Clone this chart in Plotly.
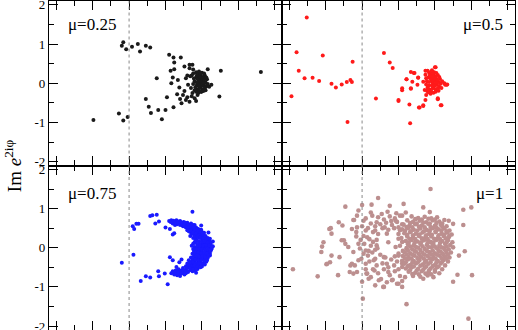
import plotly.graph_objects as go
from plotly.subplots import make_subplots

# mu = 0.25 (Re, Im) pairs
pts_025 = [
    (-0.49, -0.94), (-0.08, 1.05), (-0.10, 0.96), (-0.04, 0.87), (0.04, 0.93), (0.12, 1.00),
    (0.15, 0.81), (0.23, 0.96), (0.29, 0.91), (-0.14, -0.77), (-0.08, -0.95), (-0.02, -0.86),
    (0.27, -0.60), (0.30, -0.76), (0.38, 0.13), (0.23, -0.40), (0.40, -0.68), (0.50, -0.68),
    (0.45, -0.92), (0.52, -0.36), (0.61, -0.61), (0.55, 0.73), (0.61, 0.66), (0.62, 0.53),
    (0.71, 0.66), (0.62, 0.36), (0.57, 0.32), (0.60, 0.15), (0.58, 0.00), (0.67, 0.08),
    (0.69, -0.11), (0.76, 0.43), (0.83, 0.47), (1.24, -0.34), (1.26, 0.32), (1.08, 0.36),
    (1.81, 0.29),
    (0.83, 0.38), (0.78, 0.13), (0.81, -0.04), (0.74, -0.30), (0.78, -0.43), (0.83, -0.47),
    (0.90, -0.38), (0.94, -0.30), (0.99, -0.22), (0.72, -0.51), (0.87, 0.47), (1.10, -0.09),
    (1.13, -0.04), (0.80, 0.20), (0.84, 0.18), (0.76, -0.20), (0.86, -0.33), (0.80, -0.36),
    (0.92, -0.45), (0.70, -0.40), (0.66, -0.28), (0.88, 0.35),
    (0.90, 0.05), (0.92, 0.15), (0.93, -0.05), (0.95, 0.22), (0.96, 0.10), (0.97, 0.00),
    (0.98, -0.10), (0.99, 0.18), (1.00, 0.05), (1.01, -0.15), (1.02, 0.12), (1.03, -0.05),
    (1.04, 0.20), (1.05, 0.02), (1.06, -0.08), (0.94, -0.15), (0.96, -0.20), (0.99, -0.22),
    (1.02, -0.20), (0.91, -0.10), (0.89, 0.12), (0.92, 0.28), (0.96, 0.30), (1.00, 0.27),
    (1.03, 0.25), (0.95, 0.05), (0.98, 0.08), (1.00, -0.05), (0.97, -0.12), (0.94, 0.12),
    (1.01, 0.15), (1.04, -0.12), (1.07, 0.10), (1.08, -0.02), (0.93, 0.20), (0.88, -0.02),
    (0.90, -0.18), (0.95, -0.25), (1.05, -0.18), (1.06, 0.15), (0.98, 0.24), (0.99, -0.02),
    (1.02, 0.02), (0.96, -0.06), (0.93, 0.02), (1.00, 0.12), (0.97, 0.16), (1.03, 0.08),
    (0.92, -0.22), (0.86, 0.20), (0.85, -0.12), (0.88, 0.25), (0.87, -0.25),
]

# mu = 0.5
pts_05 = [
    (-0.76, 1.68), (-0.90, 0.79), (-0.87, 0.32), (-0.79, 0.13), (-0.68, 0.14), (-0.59, 0.06),
    (-0.54, 0.71), (-0.97, -0.33), (-0.42, -0.01), (-0.36, -0.11), (-0.28, -0.03), (-0.21, 0.03),
    (-0.16, 0.08), (-0.14, 0.03), (-0.13, 0.55), (-0.20, -0.99), (0.30, 0.77), (0.38, 0.53),
    (0.42, 0.39), (0.19, -0.39), (0.50, -0.45), (0.65, -0.54), (0.66, -1.02), (0.78, -0.62),
    (0.55, -0.18), (0.61, 0.10), (0.67, 0.29), (0.72, 0.26), (0.67, -0.14), (0.77, 0.15),
    (0.84, -0.58), (1.04, -0.41), (1.09, -0.56), (1.01, 0.41), (1.16, -0.04), (1.13, 0.00),
    (0.71, 0.26), (0.61, 0.10), (0.69, 0.04), (0.77, 0.14), (0.76, -0.04), (0.84, 0.04),
    (0.87, 0.32), (1.00, 0.41), (0.55, -0.13), (0.67, -0.13), (0.86, -0.17), (0.88, -0.30),
    (0.87, -0.43), (1.04, -0.38), (1.08, -0.56), (0.79, -0.62), (0.84, -0.56), (1.14, -0.04),
    (1.17, -0.03), (0.50, -0.43),
    (0.89, 0.05), (0.91, 0.15), (0.92, -0.06), (0.94, 0.22), (0.95, 0.09), (0.97, 0.01),
    (0.98, -0.11), (0.99, 0.19), (1.00, 0.06), (1.01, -0.16), (1.02, 0.11), (1.03, -0.04),
    (1.04, 0.21), (1.05, 0.03), (1.06, -0.09), (0.93, -0.16), (0.95, -0.21), (0.98, -0.24),
    (1.01, -0.22), (0.90, -0.11), (0.88, 0.13), (0.92, 0.27), (0.95, 0.30), (0.99, 0.28),
    (1.02, 0.26), (0.96, 0.06), (0.98, 0.09), (1.00, -0.06), (0.97, -0.13), (0.94, 0.13),
    (1.01, 0.16), (1.04, -0.13), (1.07, 0.11), (1.08, -0.01), (0.93, 0.20), (0.88, -0.03),
    (0.89, -0.19), (0.94, -0.27), (1.05, -0.19), (1.06, 0.16), (0.97, 0.24), (0.99, -0.03),
    (1.02, 0.02), (0.96, -0.05), (0.92, 0.03), (1.00, 0.13), (0.97, 0.17), (1.03, 0.08),
    (0.91, -0.23), (0.96, 0.33), (1.10, 0.05), (1.09, -0.12), (0.87, 0.22), (0.90, 0.32),
]

# mu = 0.75
pts_075 = [
    (-0.10, -0.38), (0.06, -0.18), (0.05, 0.55), (0.07, 0.48), (0.10, 0.61), (0.13, 0.61),
    (0.29, 0.81), (0.32, 0.83), (0.38, 0.84), (0.36, 0.62), (0.41, 0.67), (0.16, -0.85),
    (0.23, -0.73), (0.29, -0.76), (0.40, -0.60), (0.41, -0.73), (0.53, -0.93), (0.49, -0.66),
    (0.56, -0.24), (0.60, -0.32), (0.50, 0.52), (0.56, 0.48), (0.60, 0.34), (0.62, 0.37),
    (0.87, 0.92), (0.99, 0.57), (1.09, 0.39), (1.15, 0.16), (1.11, 0.23), (0.92, -0.64),
    (0.72, -0.30), (0.69, -0.37), (0.65, -0.49),
    (0.55, 0.68), (0.58, 0.70), (0.62, 0.66), (0.65, 0.70), (0.68, 0.64), (0.70, 0.68),
    (0.72, 0.62), (0.75, 0.66), (0.78, 0.60), (0.80, 0.64), (0.83, 0.58), (0.85, 0.62),
    (0.88, 0.55), (0.90, 0.58), (0.70, 0.58), (0.74, 0.55), (0.78, 0.52), (0.82, 0.50),
    (0.86, 0.48), (0.92, 0.52), (0.95, 0.48), (0.66, 0.60), (0.60, 0.62), (0.63, 0.58),
    (0.80, 0.45), (0.84, 0.40), (0.88, 0.42), (0.92, 0.40), (0.96, 0.42), (1.00, 0.40),
    (0.86, 0.35), (0.90, 0.32), (0.94, 0.35), (0.98, 0.30), (1.02, 0.33), (1.05, 0.30),
    (0.88, 0.25), (0.92, 0.22), (0.96, 0.25), (1.00, 0.20), (1.04, 0.22), (1.08, 0.25),
    (0.99, 0.46), (1.03, 0.38), (0.84, 0.30), (0.82, 0.42), (1.10, 0.18), (0.90, 0.15),
    (0.88, 0.10), (0.92, 0.12), (0.96, 0.08), (1.00, 0.10), (1.04, 0.12), (1.08, 0.08),
    (1.12, 0.10), (0.90, 0.02), (0.94, -0.02), (0.98, 0.02), (1.02, -0.01), (1.06, 0.03),
    (1.10, 0.00), (1.13, -0.04), (0.89, -0.08), (0.93, -0.10), (0.97, -0.07), (1.01, -0.12),
    (1.05, -0.09), (1.09, -0.11), (0.86, 0.05), (0.87, -0.15), (1.15, 0.04), (0.91, -0.18),
    (0.95, -0.16), (0.99, -0.19), (1.03, -0.17), (1.07, -0.20), (1.11, -0.15), (0.88, -0.03),
    (0.85, -0.25), (0.89, -0.28), (0.93, -0.25), (0.97, -0.29), (1.01, -0.26), (1.05, -0.30),
    (1.08, -0.26), (0.82, -0.32), (0.86, -0.36), (0.90, -0.34), (0.94, -0.38), (0.98, -0.35),
    (1.02, -0.40), (1.06, -0.36), (0.80, -0.40), (0.84, -0.44), (0.88, -0.42), (0.92, -0.46),
    (0.96, -0.44), (1.00, -0.48), (0.78, -0.47), (0.82, -0.50), (0.86, -0.52), (0.90, -0.50),
    (0.94, -0.54), (0.58, -0.65), (0.62, -0.68), (0.66, -0.62), (0.70, -0.66), (0.72, -0.58),
    (0.75, -0.62), (0.78, -0.56), (0.80, -0.60), (0.84, -0.57), (0.87, -0.60), (0.68, -0.55),
    (0.74, -0.52), (0.64, -0.58), (0.60, -0.60), (0.76, -0.68), (0.70, -0.72), (0.66, -0.70),
    (0.90, -0.58),
    (0.57, 0.66), (0.61, 0.69), (0.64, 0.64), (0.67, 0.67), (0.71, 0.65), (0.74, 0.61),
    (0.77, 0.64), (0.81, 0.57), (0.84, 0.54), (0.87, 0.59), (0.89, 0.51), (0.93, 0.47),
    (0.96, 0.45), (0.76, 0.57), (0.80, 0.53), (0.85, 0.45), (0.90, 0.44), (0.94, 0.42),
    (0.98, 0.38), (1.01, 0.36), (0.88, 0.38), (0.92, 0.36), (0.96, 0.32), (1.00, 0.30),
    (1.04, 0.27), (1.07, 0.22), (0.90, 0.28), (0.94, 0.29), (0.98, 0.26), (1.02, 0.24),
    (1.06, 0.18), (1.10, 0.14), (0.92, 0.18), (0.96, 0.16), (1.00, 0.15), (1.04, 0.16),
    (1.08, 0.13), (1.12, 0.06), (0.94, 0.06), (0.98, 0.06), (1.02, 0.05), (1.06, 0.07),
    (1.10, 0.05), (1.14, 0.01), (0.92, -0.04), (0.96, -0.03), (1.00, -0.04), (1.04, -0.05),
    (1.08, -0.04), (1.12, -0.08), (0.91, -0.13), (0.95, -0.12), (0.99, -0.14), (1.03, -0.13),
    (1.07, -0.15), (1.11, -0.20), (0.89, -0.22), (0.93, -0.20), (0.97, -0.23), (1.01, -0.21),
    (1.05, -0.24), (1.09, -0.21), (0.87, -0.31), (0.91, -0.30), (0.95, -0.32), (0.99, -0.31),
    (1.03, -0.33), (1.07, -0.32), (0.84, -0.39), (0.88, -0.37), (0.92, -0.40), (0.96, -0.39),
    (1.00, -0.42), (1.04, -0.43), (0.82, -0.46), (0.86, -0.47), (0.90, -0.45), (0.94, -0.49),
    (0.98, -0.50), (0.79, -0.52), (0.84, -0.53), (0.88, -0.55), (0.92, -0.54), (0.74, -0.57),
    (0.77, -0.60), (0.81, -0.62), (0.70, -0.61), (0.67, -0.66), (0.63, -0.63), (0.73, -0.65),
    (0.78, -0.65),
]

# mu = 1
pts_1 = [
    (0.94, 1.50), (-0.95, -0.55), (-0.61, -0.73), (-0.33, -0.70), (-0.23, 1.05), (0.01, -1.30),
    (0.61, -1.44), (1.46, -1.81), (1.50, 1.03), (1.39, 0.97), (1.51, -0.70), (1.31, -0.69),
    (1.25, -0.87), (1.41, -0.09), (1.33, -0.20), (1.39, 0.58), (1.19, 0.69), (1.25, 0.61),
    (0.22, 1.27), (0.38, 1.07), (0.57, 1.12), (0.84, 1.03), (0.93, 0.91), (0.13, 1.10),
    (-0.45, 0.48), (-0.53, 0.14), (-0.56, -0.11), (-0.44, -0.37), (-0.48, -0.41), (-0.31, -0.24),
    (-0.25, 0.19), (-0.32, 0.65), (-0.12, 0.71), (-0.07, 0.52), (-0.14, -0.41), (-0.12, -0.66),
    (0.00, -0.87), (0.06, -0.66), (0.18, -0.96), (0.29, -1.00), (0.20, 0.06), (0.55, -1.00),
    (0.84, -0.79), (0.00, 1.09), (-0.27, 0.57), (-0.43, 0.50), (-0.42, 0.36), (-0.55, 0.03),
    (-0.42, -0.20), (-0.49, -0.42), (-0.17, -0.62), (-0.16, -0.45), (-0.28, 0.19), (-0.23, 0.10),
    (-0.19, 0.02), (-0.12, -0.11), (-0.14, 0.48), (-0.11, 0.71), (-0.07, 0.82), (-0.05, 0.95),
    (-0.08, 0.29), (-0.05, 0.10), (-0.05, -0.32), (-0.07, -0.62), (0.02, 0.69), (0.05, 0.44),
    (0.07, 0.27), (0.05, -0.07), (0.05, -0.41), (0.07, -0.66), (0.09, -0.79), (0.16, -0.32),
    (0.17, -0.58), (0.23, -0.83), (0.21, -0.01), (0.18, 0.44), (0.14, 0.82), (0.20, 0.65),
    (0.27, 0.86), (0.31, 0.52), (0.34, 0.36), (0.36, 0.14), (0.30, -0.24), (0.34, -0.41),
    (0.36, -0.62), (0.41, -0.83), (0.30, -1.00), (0.46, 0.69), (0.50, 0.52), (0.55, 0.82),
    (0.50, 0.23), (0.46, 0.02), (0.50, -0.15), (0.55, -0.49), (0.59, -0.75), (0.50, -0.92),
    (0.22, 0.78), (0.30, 0.72), (0.38, 0.80), (0.45, 0.75), (0.52, 0.82), (0.25, 0.60),
    (0.33, 0.64), (0.41, 0.58), (0.48, 0.66), (0.55, 0.60), (0.18, 0.55), (0.28, 0.50),
    (0.36, 0.46), (0.44, 0.50), (0.52, 0.45), (0.12, 0.62), (0.08, 0.50), (0.15, 0.40),
    (0.22, 0.35), (0.50, 0.35), (0.54, 0.25), (0.47, 0.88), (0.35, 0.92), (0.60, 0.90),
    (0.12, 0.90), (0.05, 0.75), (0.40, 0.68), (0.15, -0.55), (0.22, -0.65), (0.30, -0.55),
    (0.38, -0.70), (0.45, -0.60), (0.52, -0.72), (0.20, -0.45), (0.28, -0.40), (0.36, -0.50),
    (0.44, -0.45), (0.50, -0.55), (0.12, -0.75), (0.26, -0.80), (0.34, -0.88), (0.42, -0.82),
    (0.48, -0.92), (0.55, -0.85), (0.10, -0.35), (0.18, -0.28), (0.40, -0.30), (0.48, -0.35),
    (0.55, -0.40), (0.32, -0.25), (0.25, -0.18), (0.05, -0.55), (0.08, -0.20), (0.02, 0.30),
    (-0.02, 0.20), (0.03, 0.10), (-0.03, -0.02), (0.02, -0.15), (-0.01, -0.28), (0.10, 0.22),
    (0.12, 0.05), (0.09, -0.08), (0.14, -0.12), (-0.08, 0.40), (-0.10, -0.45), (0.00, 0.55),
    (0.15, 0.15), (0.55, 0.15), (0.52, 0.05), (0.56, -0.08), (0.50, -0.20), (0.45, -0.22),
    (0.20, 0.20), (0.18, -0.05),
    (0.68, 0.80), (0.77, 0.76), (0.86, 0.79), (0.95, 0.75), (1.03, 0.78),
    (0.62, 0.70), (0.70, 0.66), (0.79, 0.69), (0.88, 0.65), (0.97, 0.70), (1.06, 0.67), (1.13, 0.71),
    (0.57, 0.59), (0.65, 0.56), (0.73, 0.60), (0.82, 0.57), (0.91, 0.61), (1.00, 0.56), (1.08, 0.59),
    (1.16, 0.55), (0.55, 0.47), (0.63, 0.50), (0.71, 0.46), (0.80, 0.49), (0.89, 0.45), (0.97, 0.50),
    (1.05, 0.47), (1.13, 0.49), (1.20, 0.44), (0.58, 0.37), (0.66, 0.40), (0.74, 0.36), (0.83, 0.39),
    (0.92, 0.35), (1.01, 0.40), (1.09, 0.36), (1.17, 0.39), (1.23, 0.34), (0.62, 0.29), (0.70, 0.26),
    (0.78, 0.30), (0.87, 0.27), (0.95, 0.29), (1.04, 0.25), (1.12, 0.30), (1.19, 0.27), (0.60, 0.17),
    (0.68, 0.20), (0.76, 0.16), (0.85, 0.19), (0.94, 0.15), (1.02, 0.20), (1.10, 0.17), (1.18, 0.19),
    (1.24, 0.14), (0.63, 0.09), (0.71, 0.06), (0.80, 0.10), (0.89, 0.07), (0.97, 0.09), (1.06, 0.05),
    (1.14, 0.10), (1.21, 0.07), (0.61, -0.01), (0.69, -0.04), (0.77, 0.00), (0.86, -0.03), (0.95, 0.01),
    (1.03, -0.02), (1.11, 0.00), (1.19, -0.04), (1.25, 0.01), (0.58, -0.11), (0.66, -0.14), (0.74, -0.10),
    (0.83, -0.13), (0.92, -0.11), (1.00, -0.14), (1.08, -0.10), (1.16, -0.13), (1.22, -0.12),
    (0.56, -0.21), (0.64, -0.24), (0.72, -0.20), (0.81, -0.23), (0.90, -0.21), (0.98, -0.24),
    (1.06, -0.20), (1.14, -0.23), (1.20, -0.25), (0.55, -0.33), (0.63, -0.30), (0.71, -0.34),
    (0.79, -0.31), (0.88, -0.33), (0.96, -0.30), (1.04, -0.34), (1.12, -0.31), (1.18, -0.35),
    (0.58, -0.41), (0.66, -0.44), (0.74, -0.40), (0.83, -0.43), (0.91, -0.41), (1.00, -0.44),
    (1.08, -0.40), (1.14, -0.45), (0.60, -0.53), (0.68, -0.50), (0.77, -0.54), (0.86, -0.51),
    (0.94, -0.53), (1.03, -0.50), (1.10, -0.55), (0.64, -0.61), (0.73, -0.64), (0.82, -0.60),
    (0.91, -0.63), (1.00, -0.61), (1.06, -0.65), (0.70, -0.72), (0.80, -0.74), (0.90, -0.71),
    (0.98, -0.75),
    (0.73, 0.73), (0.82, 0.72), (0.91, 0.74), (1.00, 0.72), (0.66, 0.63), (0.75, 0.62), (0.84, 0.64),
    (0.93, 0.62), (1.02, 0.63), (1.10, 0.62), (0.61, 0.53), (0.69, 0.52), (0.78, 0.54), (0.86, 0.52),
    (0.94, 0.53), (1.02, 0.52), (1.10, 0.54), (0.59, 0.43), (0.67, 0.42), (0.76, 0.44), (0.85, 0.42),
    (0.93, 0.43), (1.01, 0.42), (1.09, 0.44), (1.16, 0.42), (0.62, 0.33), (0.70, 0.32), (0.79, 0.34),
    (0.88, 0.32), (0.96, 0.33), (1.05, 0.32), (1.13, 0.34), (1.20, 0.31), (0.65, 0.23), (0.73, 0.22),
    (0.82, 0.24), (0.90, 0.22), (0.99, 0.23), (1.07, 0.22), (1.15, 0.24), (0.64, 0.13), (0.72, 0.12),
    (0.81, 0.14), (0.90, 0.12), (0.98, 0.13), (1.07, 0.12), (1.16, 0.14), (0.66, 0.03), (0.74, 0.02),
    (0.83, 0.04), (0.91, 0.02), (1.00, 0.03), (1.08, 0.02), (1.16, 0.04), (0.63, -0.07), (0.72, -0.08),
    (0.80, -0.06), (0.89, -0.08), (0.97, -0.07), (1.05, -0.08), (1.14, -0.06), (0.61, -0.17),
    (0.69, -0.18), (0.78, -0.16), (0.86, -0.18), (0.95, -0.17), (1.03, -0.18), (1.11, -0.16),
    (1.18, -0.18), (0.59, -0.27), (0.68, -0.28), (0.76, -0.26), (0.85, -0.28), (0.93, -0.27),
    (1.01, -0.28), (1.09, -0.26), (1.16, -0.28), (0.60, -0.37), (0.69, -0.38), (0.77, -0.36),
    (0.86, -0.38), (0.94, -0.37), (1.02, -0.38), (1.10, -0.36), (0.63, -0.47), (0.71, -0.48),
    (0.80, -0.46), (0.88, -0.48), (0.97, -0.47), (1.05, -0.48), (0.66, -0.57), (0.75, -0.58),
    (0.84, -0.56), (0.92, -0.58), (1.00, -0.57), (0.69, -0.67), (0.78, -0.68), (0.87, -0.66),
    (0.95, -0.68),
]

labels = ["\u03bc=0.25", "\u03bc=0.5", "\u03bc=0.75", "\u03bc=1"]
colors = ["#1a1a1a", "#ff1a1a", "#1a1aff", "#bc8f8f"]
marker_sizes = [4, 4, 4, 4.6]
y_ticks = [-2, -1, 0, 1, 2]
y_tick_text = ["-2", "-1", "0", "1", "2"]

panels = [pts_025, pts_05, pts_075, pts_1]
cells = [(1, 1), (1, 2), (2, 1), (2, 2)]

fig = make_subplots(rows=2, cols=2, horizontal_spacing=0, vertical_spacing=0)

for pts, color, size, (r, c) in zip(panels, colors, marker_sizes, cells):
    fig.add_trace(go.Scatter(
        x=[p[0] for p in pts],
        y=[p[1] for p in pts],
        mode='markers',
        marker=dict(size=size, color=color),
        showlegend=False,
    ), row=r, col=c)
    fig.add_vline(x=0, line=dict(color='#888888', width=1, dash='dot'), row=r, col=c)

# panel labels
for i, (label, (r, c)) in enumerate(zip(labels, cells)):
    left = c == 1
    fig.add_annotation(
        text=label, showarrow=False,
        xref='x%s domain' % ('' if i == 0 else i + 1),
        yref='y%s domain' % ('' if i == 0 else i + 1),
        x=0.075 if left else 0.955, y=0.86 if r == 1 else 0.83,
        xanchor='left' if left else 'right', yanchor='middle',
        font=dict(family='Liberation Serif', size=17, color='black'),
    )

fig.add_annotation(
    text='Im <i>e</i><sup>2i\u03c6</sup>', showarrow=False,
    xref='paper', yref='paper', x=-0.078, y=0.5, textangle=-90,
    xanchor='center', yanchor='middle',
    font=dict(family='Liberation Serif', size=19, color='black'),
)

fig.update_xaxes(
    range=[-1.1, 2.1], showgrid=False, zeroline=False, automargin=False,
    showline=True, linecolor='black', linewidth=1.3, mirror='allticks',
    ticks='inside', ticklen=9, tickwidth=1, tickcolor='black',
    tickmode='linear', tick0=0, dtick=0.5, showticklabels=False,
    minor=dict(ticks='inside', ticklen=5, tickwidth=1, tickcolor='black', dtick=0.25, tick0=0),
)
fig.update_yaxes(
    range=[-2.1, 2.1], showgrid=False, zeroline=False, automargin=False,
    showline=True, linecolor='black', linewidth=1.3, mirror='allticks',
    ticks='inside', ticklen=9, tickwidth=1, tickcolor='black',
    tickmode='array', tickvals=y_ticks, ticktext=y_tick_text,
    ticklabeloverflow='allow',
    tickfont=dict(family='Liberation Serif', size=13, color='black'),
    minor=dict(ticks='inside', ticklen=5, tickwidth=1, tickcolor='black', dtick=0.5, tick0=0),
)
fig.update_yaxes(showticklabels=False, col=2)

fig.update_layout(
    width=518, height=330,
    margin=dict(l=49, r=3, t=1, b=0),
    plot_bgcolor='white', paper_bgcolor='white',
)

fig.write_html("out.html", config={'displayModeBar': False},
               post_script="document.body.style.margin='0';")
